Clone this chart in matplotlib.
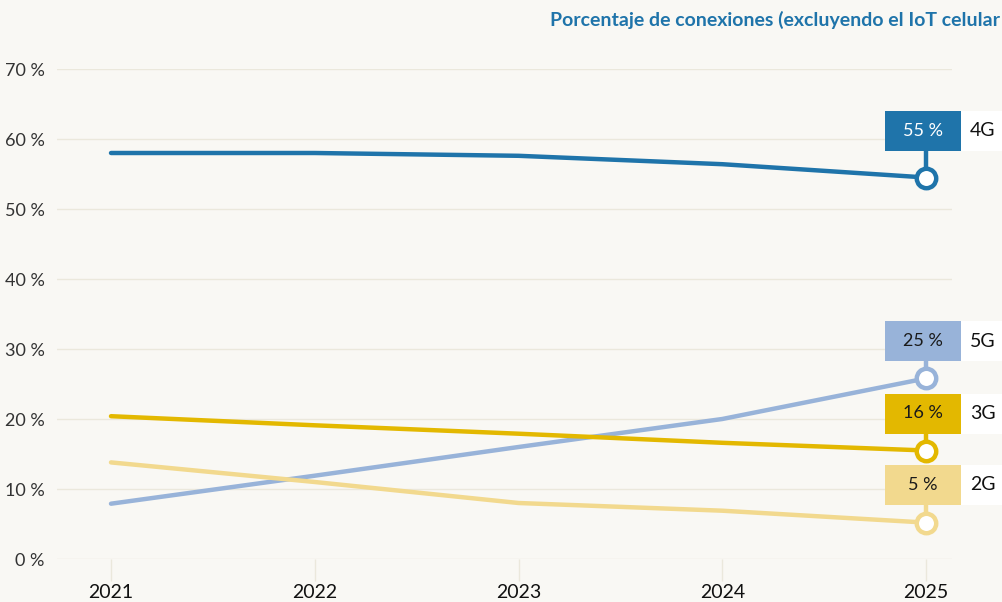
import matplotlib
matplotlib.use("Agg")
import matplotlib.pyplot as plt
from matplotlib.patches import Rectangle

years = [2021, 2022, 2023, 2024, 2025]
series_names = ["4G", "5G", "3G", "2G"]
g4 = [58.0, 58.0, 57.6, 56.4, 54.5]
g5 = [7.9, 11.9, 16.0, 20.0, 25.8]
g3 = [20.4, 19.1, 17.9, 16.6, 15.5]
g2 = [13.8, 11.0, 8.0, 6.9, 5.2]
end_labels = ["55 %", "25 %", "16 %", "5 %"]
yticks = [0, 10, 20, 30, 40, 50, 60, 70]
ytick_labels = ["0 %", "10 %", "20 %", "30 %", "40 %", "50 %", "60 %", "70 %"]
title = "Porcentaje de conexiones (excluyendo el IoT celular"

colors = ["#1f74aa", "#98b3d9", "#e3b800", "#f2d98e"]
text_colors = ["white", "#1a1a1a", "#1a1a1a", "#1a1a1a"]
box_offsets_px = [-47, -37, -37, -38]

bg = "#f9f8f4"
W, H = 1003, 602
fig = plt.figure(figsize=(W / 100, H / 100), dpi=100, facecolor=bg)
plt.rcParams['font.family'] = ['Lato', 'DejaVu Sans']

ax_l, ax_r, ax_t, ax_b = 57, 952, 69, 559
ax = fig.add_axes([ax_l / W, (H - ax_b) / H, (ax_r - ax_l) / W, (ax_b - ax_t) / H])
ax.set_facecolor(bg)

px_per_year = (926 - 111) / 4
ax.set_xlim(2021 - (111 - ax_l) / px_per_year, 2025 + (ax_r - 926) / px_per_year)
ax.set_ylim(0, 70)
px_per_unit = (ax_b - ax_t) / 70

for s in ax.spines.values():
    s.set_visible(False)

ax.set_yticks(yticks)
ax.set_yticklabels(ytick_labels, fontsize=13, color="#333333")
ax.set_xticks(years)
ax.set_xticklabels([str(y) for y in years], fontsize=14, color="#111111")
ax.tick_params(axis="y", length=0, pad=9)
ax.tick_params(axis="x", length=16, width=1, color="#ebe8dc", pad=2)
ax.grid(axis="y", color="#ebe8dc", linewidth=1)
ax.set_axisbelow(True)

data = [g4, g5, g3, g2]
for vals, c in zip(data, colors):
    ax.plot(years, vals, color=c, linewidth=3.2, solid_capstyle="round", zorder=3)

# end markers with label boxes
box_w = 76 / px_per_year
box_h = 40 / px_per_unit
for vals, c, tc, lab, name, off in zip(data, colors, text_colors, end_labels, series_names, box_offsets_px):
    x = years[-1]
    y = vals[-1]
    yc = y - off / px_per_unit
    ax.plot([x, x], [y, yc], color=c, linewidth=3.2, zorder=4, clip_on=False)
    ax.plot([x], [y], marker="o", markersize=14, markerfacecolor="white",
            markeredgecolor=c, markeredgewidth=3.2, zorder=6, clip_on=False)
    ax.add_patch(Rectangle((x - 41 / px_per_year, yc - box_h / 2), box_w, box_h,
                           facecolor=c, edgecolor="none", zorder=5, clip_on=False))
    ax.add_patch(Rectangle((x + 35 / px_per_year, yc - box_h / 2), 60 / px_per_year, box_h,
                           facecolor="white", edgecolor="none", zorder=5, clip_on=False))
    ax.text(x - 3 / px_per_year, yc, lab, ha="center", va="center", fontsize=13,
            color=tc, zorder=7, clip_on=False)
    ax.text(x + 57 / px_per_year, yc, name, ha="center", va="center", fontsize=14,
            color="#111111", zorder=7, clip_on=False)

fig.text(1000 / W, 1 - 20 / H, title, ha="right", va="center", fontsize=14,
         fontweight="bold", color="#1f74aa")

fig.savefig("out.png", dpi=100, facecolor=bg)
